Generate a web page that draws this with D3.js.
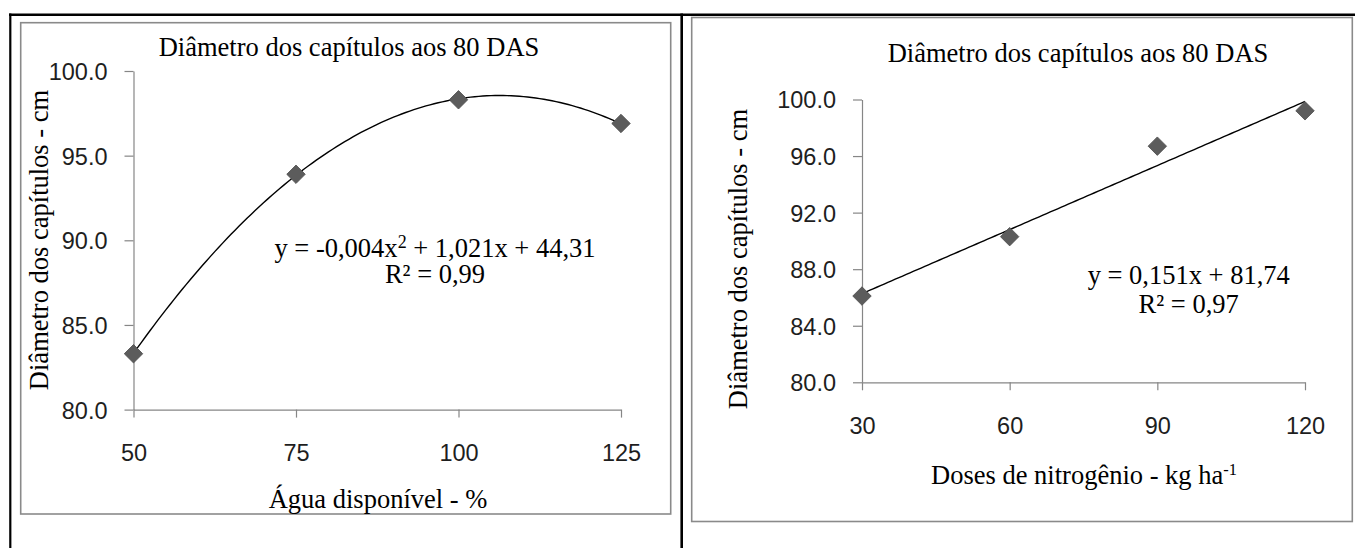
<!DOCTYPE html>
<html>
<head>
<meta charset="utf-8">
<script src="https://cdn.jsdelivr.net/npm/d3@7"></script>
<style>
  html, body { margin: 0; padding: 0; background: #fff; }
  svg { display: block; }
  .serif { font-family: "Liberation Serif", "Times New Roman", serif; fill: #000; white-space: pre; }
  .tick text { font-family: "Liberation Sans", Arial, sans-serif; font-size: 23.5px; fill: #1e1e1e; }
  .tick line, .domain { stroke: #868686; stroke-width: 1.2px; }
</style>
</head>
<body>
<svg id="fig" width="1355" height="548"></svg>
<script>
// ---- data -----------------------------------------------------------
const chartTitle = "Diâmetro dos capítulos aos 80 DAS";
const yAxisTitle = "Diâmetro dos capítulos - cm";

// Panel A: available water
const waterLevels   = [50, 75, 100, 125];
const waterDiameter = [83.3, 93.9, 98.3, 96.9];
const waterXTicks   = [50, 75, 100, 125];
const waterYTicks   = [80, 85, 90, 95, 100];
const waterXTitle   = "Água disponível - %";
const waterEqParts  = ["y = -0,004x", "2", " + 1,021x + 44,31"];
const waterR2       = "R² = 0,99";

// Panel B: nitrogen doses
const nitrogenDoses    = [30, 60, 90, 120];
const nitrogenDiameter = [86.1, 90.3, 96.7, 99.2];
const nitrogenXTicks   = [30, 60, 90, 120];
const nitrogenYTicks   = [80, 84, 88, 92, 96, 100];
const nitrogenSlope     = 0.151;
const nitrogenIntercept = 81.74;
const nitrogenXTitleParts = ["Doses de nitrogênio - kg ha", "-1"];
const nitrogenEqParts   = ["y = 0,151x + 81,74"];
const nitrogenR2        = "R² = 0,97";

// ---- helpers --------------------------------------------------------
// least-squares quadratic fit, returns f(x)
function quadFit(xs, ys) {
  const m = d3.mean(xs);
  const u = xs.map(v => v - m);
  const S = k => d3.sum(u, v => Math.pow(v, k));
  const T = k => d3.sum(u, (v, i) => Math.pow(v, k) * ys[i]);
  const A = [[S(0), S(1), S(2)], [S(1), S(2), S(3)], [S(2), S(3), S(4)]];
  const b = [T(0), T(1), T(2)];
  // gaussian elimination
  for (let i = 0; i < 3; i++) {
    for (let r = i + 1; r < 3; r++) {
      const f = A[r][i] / A[i][i];
      for (let c = i; c < 3; c++) A[r][c] -= f * A[i][c];
      b[r] -= f * b[i];
    }
  }
  const coef = [0, 0, 0];
  for (let i = 2; i >= 0; i--) {
    let s = b[i];
    for (let c = i + 1; c < 3; c++) s -= A[i][c] * coef[c];
    coef[i] = s / A[i][i];
  }
  return x => coef[0] + coef[1] * (x - m) + coef[2] * (x - m) * (x - m);
}

const svg = d3.select("#fig");
const FS = 26.5;

function drawPanel(cfg) {
  const g = svg.append("g");

  g.append("rect")
    .attr("x", cfg.frame.x0).attr("y", cfg.frame.y0)
    .attr("width", cfg.frame.x1 - cfg.frame.x0)
    .attr("height", cfg.frame.y1 - cfg.frame.y0)
    .attr("fill", "#fff").attr("stroke", "#8a8a8a").attr("stroke-width", 1.6);

  const x = d3.scaleLinear().domain(cfg.xDomain).range([cfg.plot.left, cfg.plot.right]);
  const y = d3.scaleLinear().domain(cfg.yDomain).range([cfg.plot.bottom, cfg.plot.top]);

  g.append("g")
    .attr("transform", `translate(0,${cfg.plot.bottom})`)
    .call(d3.axisBottom(x).tickValues(cfg.xTicks).tickFormat(d3.format("d"))
      .tickSize(8).tickSizeOuter(0).tickPadding(27));

  g.append("g")
    .attr("transform", `translate(${cfg.plot.left},0)`)
    .call(d3.axisLeft(y).tickValues(cfg.yTicks).tickFormat(d3.format(".1f"))
      .tickSize(9).tickSizeOuter(0).tickPadding(17));

  g.selectAll(".tick text").attr("dy", function () {
    return d3.select(this.parentNode.parentNode).attr("transform").startsWith("translate(0") ? "0.71em" : "0.36em";
  });

  // chart title
  g.append("text").attr("class", "serif")
    .attr("x", cfg.title.x).attr("y", cfg.title.y)
    .attr("text-anchor", "middle").attr("font-size", FS)
    .text(chartTitle);

  // y-axis title
  g.append("text").attr("class", "serif")
    .attr("transform", `translate(${cfg.yTitle.x},${cfg.yTitle.y}) rotate(-90)`)
    .attr("text-anchor", "middle").attr("font-size", FS)
    .text(yAxisTitle);

  // x-axis title (with optional superscript)
  const xt = g.append("text").attr("class", "serif")
    .attr("x", cfg.xTitle.x).attr("y", cfg.xTitle.y)
    .attr("text-anchor", "middle").attr("font-size", FS);
  xt.append("tspan").text(cfg.xTitleParts[0]);
  if (cfg.xTitleParts.length > 1) {
    xt.append("tspan").attr("font-size", FS * 0.62).attr("dy", -9).text(cfg.xTitleParts[1]);
  }

  // trend line
  const xs = d3.range(cfg.xDomain[0], cfg.xDomain[1] + 0.001, (cfg.xDomain[1] - cfg.xDomain[0]) / 120);
  g.append("path")
    .datum(xs)
    .attr("fill", "none").attr("stroke", "#000").attr("stroke-width", 1.4)
    .attr("d", d3.line().x(d => x(d)).y(d => y(cfg.trend(d))));

  // markers
  const diamond = d3.symbol(d3.symbolSquare, 170);
  g.selectAll("path.pt")
    .data(cfg.xs.map((v, i) => [v, cfg.ys[i]]))
    .join("path").attr("class", "pt")
    .attr("d", diamond)
    .attr("transform", d => `translate(${x(d[0])},${y(d[1])}) rotate(45)`)
    .attr("fill", "#5c5c5c").attr("stroke", "#505050").attr("stroke-width", 0.8);

  // equation and R²
  const eq = g.append("text").attr("class", "serif")
    .attr("x", cfg.eq.x).attr("y", cfg.eq.y1)
    .attr("text-anchor", "middle").attr("font-size", FS);
  cfg.eqParts.forEach((p, i) => {
    const t = eq.append("tspan").text(p);
    if (cfg.eqParts.length === 3 && i === 1) t.attr("font-size", FS * 0.68).attr("dy", -9);
    if (cfg.eqParts.length === 3 && i === 2) t.attr("dy", 9);
  });
  g.append("text").attr("class", "serif")
    .attr("x", cfg.eq.x).attr("y", cfg.eq.y2)
    .attr("text-anchor", "middle").attr("font-size", FS)
    .text(cfg.r2);
}

// outer table rules
const rules = svg.append("g").attr("stroke", "#000");
rules.append("line").attr("x1", 9).attr("x2", 1355).attr("y1", 14.7).attr("y2", 14.7).attr("stroke-width", 2.6);
rules.append("line").attr("x1", 10.3).attr("x2", 10.3).attr("y1", 13.5).attr("y2", 548).attr("stroke-width", 2.2);
rules.append("line").attr("x1", 681.7).attr("x2", 681.7).attr("y1", 13.5).attr("y2", 548).attr("stroke-width", 2.6);

drawPanel({
  frame: { x0: 20.7, y0: 22.7, x1: 670.7, y1: 514 },
  plot: { left: 133.5, right: 621, top: 71, bottom: 409.6 },
  xDomain: [50, 125], yDomain: [80, 100],
  xTicks: waterXTicks, yTicks: waterYTicks,
  xs: waterLevels, ys: waterDiameter,
  trend: quadFit(waterLevels, waterDiameter),
  title: { x: 349, y: 56 },
  yTitle: { x: 48, y: 240 },
  xTitle: { x: 378, y: 508 },
  xTitleParts: [waterXTitle],
  eq: { x: 435, y1: 256.7, y2: 283.3 },
  eqParts: waterEqParts, r2: waterR2
});

drawPanel({
  frame: { x0: 691.7, y0: 17.5, x1: 1352.3, y1: 521.5 },
  plot: { left: 862, right: 1305, top: 99.5, bottom: 382.3 },
  xDomain: [30, 120], yDomain: [80, 100],
  xTicks: nitrogenXTicks, yTicks: nitrogenYTicks,
  xs: nitrogenDoses, ys: nitrogenDiameter,
  trend: v => nitrogenSlope * v + nitrogenIntercept,
  title: { x: 1078, y: 62 },
  yTitle: { x: 747, y: 259 },
  xTitle: { x: 1084, y: 484 },
  xTitleParts: nitrogenXTitleParts,
  eq: { x: 1188.7, y1: 284, y2: 312.7 },
  eqParts: nitrogenEqParts, r2: nitrogenR2
});
</script>
</body>
</html>
